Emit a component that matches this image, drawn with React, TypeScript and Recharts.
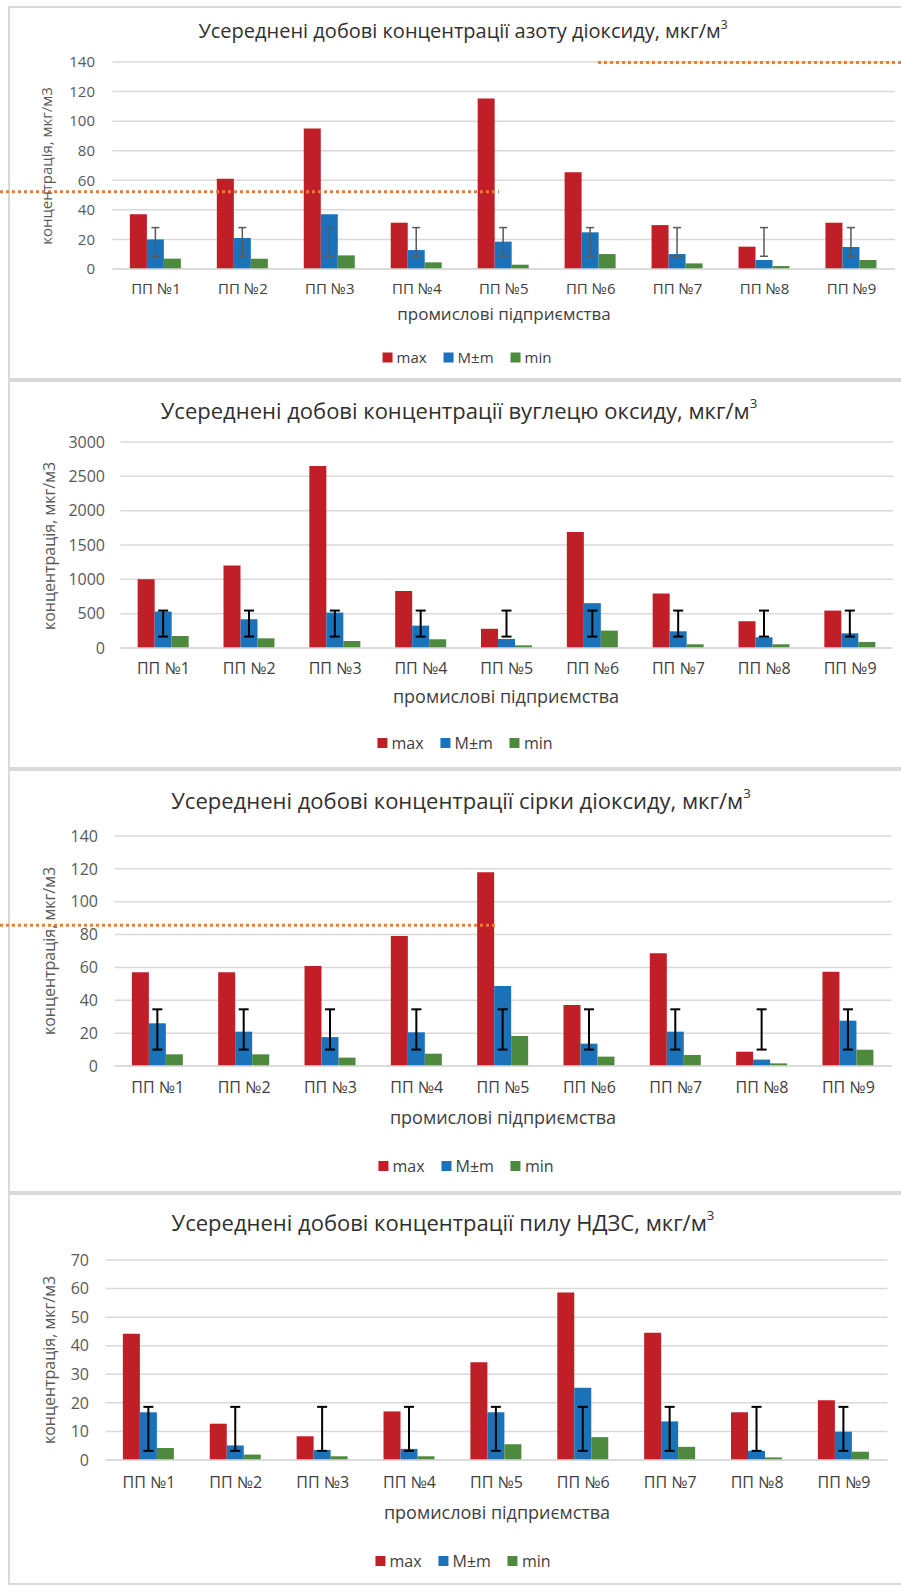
import React from 'react';
import { BarChart, Bar, XAxis, YAxis, CartesianGrid, ErrorBar, ReferenceLine } from 'recharts';

const categories = ['ПП №1', 'ПП №2', 'ПП №3', 'ПП №4', 'ПП №5', 'ПП №6', 'ПП №7', 'ПП №8', 'ПП №9'];
const seriesNames = ['max', 'M±m', 'min'];
const seriesColors = ['#c01f27', '#1b72b8', '#4d8a3d'];

// NO2
const no2Max = [37, 61, 95, 31.3, 115.3, 65.5, 29.7, 15.1, 31.3];
const no2Mean = [20, 21, 37, 12.8, 18.5, 24.8, 10.1, 6.1, 14.9];
const no2Min = [7, 7, 9.2, 4.5, 2.9, 10.1, 3.8, 2, 6.1];
const no2ErrRange = [8.6, 28];
const no2Ticks = [0, 20, 40, 60, 80, 100, 120, 140];
const no2Marks = [52.2, 139.6];

// CO
const coMax = [1000, 1200, 2650, 830, 280, 1690, 795, 390, 545];
const coMean = [531, 419, 516, 326, 131, 653, 243, 156, 214];
const coMin = [175, 141, 102, 127, 39, 253, 54, 54, 88];
const coErrRange = [166, 545];
const coTicks = [0, 500, 1000, 1500, 2000, 2500, 3000];

// SO2
const so2Max = [57, 57, 60.9, 79.1, 118, 37.1, 68.6, 8.7, 57.4];
const so2Mean = [26, 20.9, 17.6, 20.5, 48.7, 13.6, 20.9, 3.9, 27.6];
const so2Min = [7.1, 7.1, 5.1, 7.5, 18.3, 5.7, 6.7, 1.6, 9.9];
const so2ErrRange = [10, 34.5];
const so2Ticks = [0, 20, 40, 60, 80, 100, 120, 140];
const so2Marks = [85.6];

// Dust
const dustMax = [44.2, 12.7, 8.3, 17, 34.2, 58.6, 44.5, 16.7, 20.9];
const dustMean = [16.7, 5.1, 3.5, 3.9, 16.7, 25.3, 13.5, 3.2, 9.9];
const dustMin = [4.2, 1.9, 1.3, 1.3, 5.5, 8, 4.6, 0.9, 2.9];
const dustErrRange = [3.2, 18.6];
const dustTicks = [0, 10, 20, 30, 40, 50, 60, 70];

const yLabel = 'концентрація, мкг/м3';
const xLabel = 'промислові підприємства';
const FONT = "'Open Sans', 'DejaVu Sans', sans-serif";

function buildData(maxA: number[], meanA: number[], minA: number[], err: number[]) {
  return categories.map((name, i) => ({
    name,
    max: maxA[i],
    mean: meanA[i],
    min: minA[i],
    err: [meanA[i] - err[0], err[1] - meanA[i]],
  }));
}

const dotted = (xa: number, xb: number) => (p: any) => (
  <line x1={xa} x2={xb} y1={p.y1} y2={p.y1} stroke="#ED7D31" strokeWidth={3} strokeDasharray="3 3" />
);

type PanelProps = {
  top: number;
  height: number;
  title: string;
  titleCx: number;
  titleCy: number;
  titleSize: number;
  data: any[];
  ticks: number[];
  plotTop: number;
  plotBottom: number;
  plotLeft: number;
  plotRight: number;
  yTickEnd: number;
  xTickCy: number;
  tickSize: number;
  yLabCx: number;
  yLabCy: number;
  xLabCx: number;
  xLabCy: number;
  legCx: number;
  legCy: number;
  small?: boolean;
  errColor: string;
  errWidth: number;
  errCap: number;
  marks?: { v: number; xa: number; xb: number }[];
};

function Panel(p: PanelProps) {
  const yW = 60;
  const xH = 30;
  const margin = {
    top: p.plotTop - p.top,
    left: p.plotLeft - yW,
    right: 901 - p.plotRight,
    bottom: p.top + p.height - p.plotBottom - xH,
  };
  const yTickMargin = p.plotLeft - 6 - p.yTickEnd;
  const xTickMargin = p.xTickCy - p.tickSize * 0.35 - p.plotBottom - 6;
  const labelSize = p.small ? 15 : 16;
  const axisTitleSize = p.small ? 17 : 18;
  return (
    <>
      <div
        style={{
          position: 'absolute',
          left: 8,
          top: p.top,
          width: 1000,
          height: p.height,
          boxSizing: 'border-box',
          border: '2px solid #d9d9d9',
        }}
      />
      <div style={{ position: 'absolute', left: 0, top: p.top }}>
        <BarChart
          width={901}
          height={p.height}
          data={p.data}
          margin={margin}
          barCategoryGap="20%"
          barGap={0}
        >
          <CartesianGrid vertical={false} stroke="#d9d9d9" strokeWidth={1.5} />
          <XAxis
            dataKey="name"
            height={xH}
            tickLine={false}
            axisLine={{ stroke: '#d9d9d9', strokeWidth: 1.5 }}
            tickMargin={xTickMargin}
            tick={{ fill: '#404040', fontSize: p.tickSize, fontFamily: FONT }}
            interval={0}
          />
          <YAxis
            width={yW}
            domain={[p.ticks[0], p.ticks[p.ticks.length - 1]]}
            ticks={p.ticks}
            tickLine={false}
            axisLine={false}
            tickMargin={yTickMargin}
            tick={{ fill: '#595959', fontSize: p.tickSize, fontFamily: FONT }}
            interval={0}
          />
          <Bar dataKey="max" fill={seriesColors[0]} isAnimationActive={false} />
          <Bar dataKey="mean" fill={seriesColors[1]} isAnimationActive={false}>
            <ErrorBar dataKey="err" stroke={p.errColor} strokeWidth={p.errWidth} width={p.errCap} />
          </Bar>
          <Bar dataKey="min" fill={seriesColors[2]} isAnimationActive={false} />
          {(p.marks || []).map((m, i) => (
            <ReferenceLine key={i} y={m.v} ifOverflow="visible" shape={dotted(m.xa, m.xb)} />
          ))}
        </BarChart>
      </div>
      <div
        style={{
          position: 'absolute',
          left: p.titleCx,
          top: p.titleCy,
          transform: 'translate(-50%, -50%)',
          whiteSpace: 'nowrap',
          fontFamily: FONT,
          fontSize: p.titleSize,
          color: '#303030',
          lineHeight: 1,
        }}
      >
        {p.title}
        <sup style={{ fontSize: '0.6em', verticalAlign: 'top', position: 'relative', top: -2 }}>3</sup>
      </div>
      <div
        style={{
          position: 'absolute',
          left: p.yLabCx,
          top: p.yLabCy,
          transform: 'translate(-50%, -50%) rotate(-90deg)',
          whiteSpace: 'nowrap',
          fontFamily: FONT,
          fontSize: labelSize,
          color: '#595959',
          lineHeight: 1,
        }}
      >
        {yLabel}
      </div>
      <div
        style={{
          position: 'absolute',
          left: p.xLabCx,
          top: p.xLabCy,
          transform: 'translate(-50%, -50%)',
          whiteSpace: 'nowrap',
          fontFamily: FONT,
          fontSize: axisTitleSize,
          color: '#404040',
          lineHeight: 1,
        }}
      >
        {xLabel}
      </div>
      <div
        style={{
          position: 'absolute',
          left: p.legCx,
          top: p.legCy,
          transform: 'translate(-50%, -50%)',
          whiteSpace: 'nowrap',
          display: 'flex',
          alignItems: 'center',
          fontFamily: FONT,
          fontSize: labelSize,
          color: '#404040',
          lineHeight: 1,
        }}
      >
        {seriesNames.map((n, i) => (
          <span key={n} style={{ display: 'flex', alignItems: 'center', marginLeft: i === 0 ? 0 : 17 }}>
            <span style={{ width: 10, height: 10, background: seriesColors[i], marginRight: 4, display: 'inline-block' }} />
            {n}
          </span>
        ))}
      </div>
    </>
  );
}

export default function App() {
  const no2 = buildData(no2Max, no2Mean, no2Min, no2ErrRange);
  const co = buildData(coMax, coMean, coMin, coErrRange);
  const so2 = buildData(so2Max, so2Mean, so2Min, so2ErrRange);
  const dust = buildData(dustMax, dustMean, dustMin, dustErrRange);
  return (
    <div
      style={{
        position: 'absolute',
        left: 0,
        top: 0,
        width: 901,
        height: 1585,
        overflow: 'hidden',
        background: '#fff',
      }}
    >
      <Panel
        top={6}
        height={374}
        title="Усереднені добові концентрації азоту діоксиду, мкг/м"
        titleCx={463}
        titleCy={31}
        titleSize={20}
        data={no2}
        ticks={no2Ticks}
        plotTop={62}
        plotBottom={269}
        plotLeft={112.5}
        plotRight={895}
        yTickEnd={95}
        xTickCy={288.5}
        tickSize={15}
        yLabCx={46}
        yLabCy={166}
        xLabCx={504}
        xLabCy={313}
        legCx={467}
        legCy={357}
        small
        errColor="#595959"
        errWidth={1.5}
        errCap={4}
        marks={[
          { v: no2Marks[0], xa: 0, xb: 499 },
          { v: no2Marks[1], xa: 598, xb: 901 },
        ]}
      />
      <Panel
        top={380}
        height={389}
        title="Усереднені добові концентрації вуглецю оксиду, мкг/м"
        titleCx={459}
        titleCy={410}
        titleSize={22}
        data={co}
        ticks={coTicks}
        plotTop={442}
        plotBottom={648}
        plotLeft={120.5}
        plotRight={893}
        yTickEnd={105}
        xTickCy={668.5}
        tickSize={16}
        yLabCx={49}
        yLabCy={546}
        xLabCx={506}
        xLabCy={696}
        legCx={465}
        legCy={743}
        errColor="#000000"
        errWidth={2}
        errCap={5}
      />
      <Panel
        top={769}
        height={424}
        title="Усереднені добові концентрації сірки діоксиду, мкг/м"
        titleCx={461}
        titleCy={800}
        titleSize={22}
        data={so2}
        ticks={so2Ticks}
        plotTop={836}
        plotBottom={1066}
        plotLeft={114.6}
        plotRight={891.5}
        yTickEnd={98}
        xTickCy={1087}
        tickSize={16}
        yLabCx={49}
        yLabCy={951}
        xLabCx={503}
        xLabCy={1117}
        legCx={466}
        legCy={1166}
        errColor="#000000"
        errWidth={2}
        errCap={5}
        marks={[{ v: so2Marks[0], xa: 0, xb: 498 }]}
      />
      <Panel
        top={1193}
        height={392}
        title="Усереднені добові концентрації пилу НДЗС, мкг/м"
        titleCx={443}
        titleCy={1222}
        titleSize={22}
        data={dust}
        ticks={dustTicks}
        plotTop={1260}
        plotBottom={1460}
        plotLeft={105.5}
        plotRight={887.4}
        yTickEnd={89}
        xTickCy={1482}
        tickSize={16}
        yLabCx={49}
        yLabCy={1360}
        xLabCx={497}
        xLabCy={1512}
        legCx={463}
        legCy={1561}
        errColor="#000000"
        errWidth={2}
        errCap={5}
      />
    </div>
  );
}
